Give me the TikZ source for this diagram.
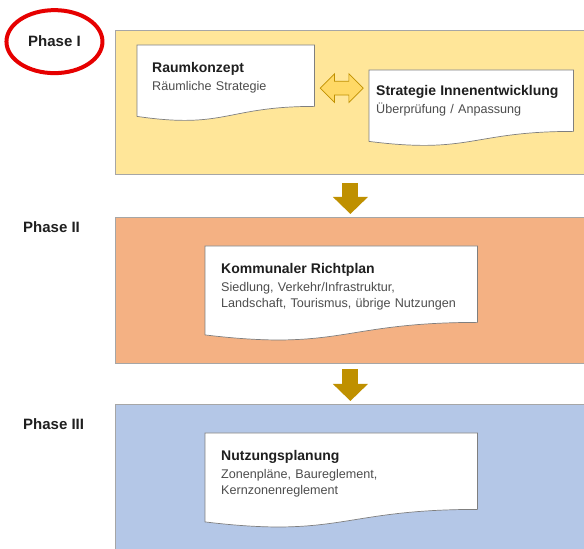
\documentclass[tikz,border=0pt]{standalone}
\usepackage{fontspec}
\setmainfont{Liberation Sans}
\usetikzlibrary{arrows.meta,shapes.arrows,calc,backgrounds}

\definecolor{phaseyellow}{HTML}{FFE699}
\definecolor{phaseorange}{HTML}{F4B183}
\definecolor{phaseblue}{HTML}{B4C7E7}
\definecolor{arrowgold}{HTML}{BF9000}
\definecolor{arrowlight}{HTML}{FFD966}
\definecolor{bandline}{HTML}{A6A6A6}
\definecolor{docline}{HTML}{7F7F7F}
\definecolor{titletext}{HTML}{1F1F1F}
\definecolor{bodytext}{HTML}{4D4D4D}
\definecolor{markred}{HTML}{E60000}

\newcommand{\doctitle}[1]{{\fontsize{14}{16}\selectfont\bfseries\color{titletext}#1}}
% outline of a document node with a wavy lower edge
\newcommand{\docwave}[3]{%
  \draw[docshape] (#1.south east) -- (#1.north east) -- (#1.north west)
    -- ($(#1.south west)+(0,-#2)$)
    .. controls ($(#1.south west)!0.5!(#1.south east)+(0,-#3)$)
    and ($(#1.south west)!0.5!(#1.south east)$) .. (#1.south east) -- cycle;}

\begin{document}
\begin{tikzpicture}[x=1pt, y=1pt,
  band/.style={draw=bandline, line width=0.8pt, anchor=north west, minimum width=470pt, inner sep=0pt},
  doc/.style={anchor=north west, align=left, inner ysep=0pt, font=\fontsize{12.6}{16}\selectfont, text=bodytext},
  docshape/.style={draw=docline, fill=white, line width=0.7pt},
  phase/.style={anchor=base west, inner sep=0pt, font=\fontsize{15}{18}\selectfont\bfseries, text=titletext},
  flow/.style={draw=arrowgold, line width=16pt, -{Triangle[width=34pt,length=17pt]}},
  linkarrow/.style={double arrow, draw=arrowgold, fill=arrowlight, line width=0.7pt, minimum height=43pt, minimum width=28pt, double arrow head extend=7.5pt, inner xsep=0pt, inner ysep=6.5pt}]
\useasboundingbox (0,0) rectangle (584,549);

% Phase labels
\node[phase] (ph1) at (28,502) {Phase I};
\node[phase] (ph2) at (23,316) {Phase II};
\node[phase] (ph3) at (23,119.5) {Phase III};
\draw[markred, line width=4pt] (ph1.center) ellipse [x radius=48pt, y radius=31.5pt];

% Documents
\node[doc, text width=147pt, inner xsep=15pt, text height=27pt, text depth=34pt] (rk) at (137,504)
  {\doctitle{Raumkonzept}\\[2pt] Räumliche Strategie};
\node[doc, text width=190pt, inner xsep=7pt, text height=25pt, text depth=36pt] (si) at (369,479)
  {\doctitle{Strategie Innenentwicklung}\\[2pt] Überprüfung / Anpassung};
\node[doc, text width=240pt, inner xsep=16pt, text height=27pt, text depth=49pt] (kr) at (205,303)
  {\doctitle{Kommunaler Richtplan}\\[2pt] Siedlung, Verkehr/Infrastruktur,\\ Landschaft, Tourismus, übrige Nutzungen};
\node[doc, text width=240pt, inner xsep=16pt, text height=27pt, text depth=49pt] (np) at (205,116)
  {\doctitle{Nutzungsplanung}\\[2pt] Zonenpläne, Baureglement,\\ Kernzonenreglement};

\begin{scope}[on background layer]
% Phase bands
\node[band, fill=phaseyellow, minimum height=144pt] (p1) at (115,519) {};
\node[band, fill=phaseorange, minimum height=146pt] (p2) at (115,332) {};
\node[band, fill=phaseblue, minimum height=155pt] (p3) at (115,145) {};

\docwave{rk}{10}{23}
\docwave{si}{10}{23}
\docwave{kr}{12.5}{29}
\docwave{np}{12.5}{29}
\end{scope}

% Arrows
\draw[flow] ([yshift=-8pt]p1.south) -- ([yshift=3pt]p2.north);
\draw[flow] ([yshift=-5pt]p2.south) -- ([yshift=3pt]p3.north);
\node[linkarrow] (link) at ($(rk.east)!0.5!(si.west)$) {};
\end{tikzpicture}
\end{document}
